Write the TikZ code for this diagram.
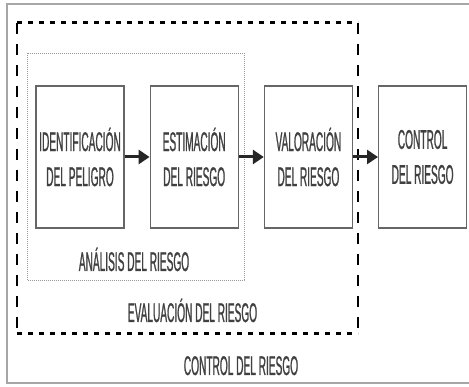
\documentclass[tikz,border=0pt]{standalone}
\usepackage{fontspec}
\newfontfamily\condfont[FakeStretch=0.375,FakeBold=0.8]{Liberation Sans}
\usetikzlibrary{positioning,arrows.meta}

\tikzset{
  etapa/.style={draw=black!60, line width=1.2pt, minimum width=88pt, minimum height=142pt,
    inner sep=0pt, align=center, text=black!75, font=\condfont\fontsize{27}{35}\selectfont},
  rotulo/.style={text=black!75, font=\condfont\fontsize{27}{30}\selectfont, inner sep=0pt, anchor=base},
  flecha/.style={-{Triangle[length=11pt,width=14pt]}, line width=3pt, draw=black!85}
}

\begin{document}
\begin{tikzpicture}[
                x=1pt, y=-1pt,
                node distance=25pt
                ]
                \useasboundingbox (0,0) rectangle (469,387);

                % marco exterior
                \draw[gray!70, line width=1.5pt] (469,4) -- (7,4) -- (7,383) -- (469,383);

                % evaluacion del riesgo
                \draw[line width=3pt, dash pattern=on 5pt off 6pt] (17,23) -- (358,23);
                \draw[line width=3pt, dash pattern=on 5pt off 6pt] (17,334) -- (358,334);
                \draw[line width=1.6pt, dash pattern=on 11pt off 10pt] (17,23) -- (17,334);
                \draw[line width=1.6pt, dash pattern=on 11pt off 10pt] (358,23) -- (358,334);

                % analisis del riesgo
                \draw[black!40, line width=0.8pt, dash pattern=on 0.8pt off 1.2pt] (27,53) rectangle (244,280);

                \node [etapa] (ident) at (80,157) {IDENTIFICACIÓN\\DEL PELIGRO};
                \node [etapa, right=of ident] (estim) {ESTIMACIÓN\\DEL RIESGO};
                \node [etapa, right=of estim] (valor) {VALORACIÓN\\DEL RIESGO};
                \node [etapa, right=of valor] (control) {CONTROL\\DEL RIESGO};

                \draw[flecha] (ident) -- (estim);
                \draw[flecha] (estim) -- (valor);
                \draw[flecha] (valor) -- (control);

                \node [rotulo] (analisis) at (134,271) {ANÁLISIS DEL RIESGO};
                \node [rotulo] (evaluacion) at (192.5,322) {EVALUACIÓN DEL RIESGO};
                \node [rotulo] (controlriesgo) at (241,375) {CONTROL DEL RIESGO};
            \end{tikzpicture}
\end{document}
